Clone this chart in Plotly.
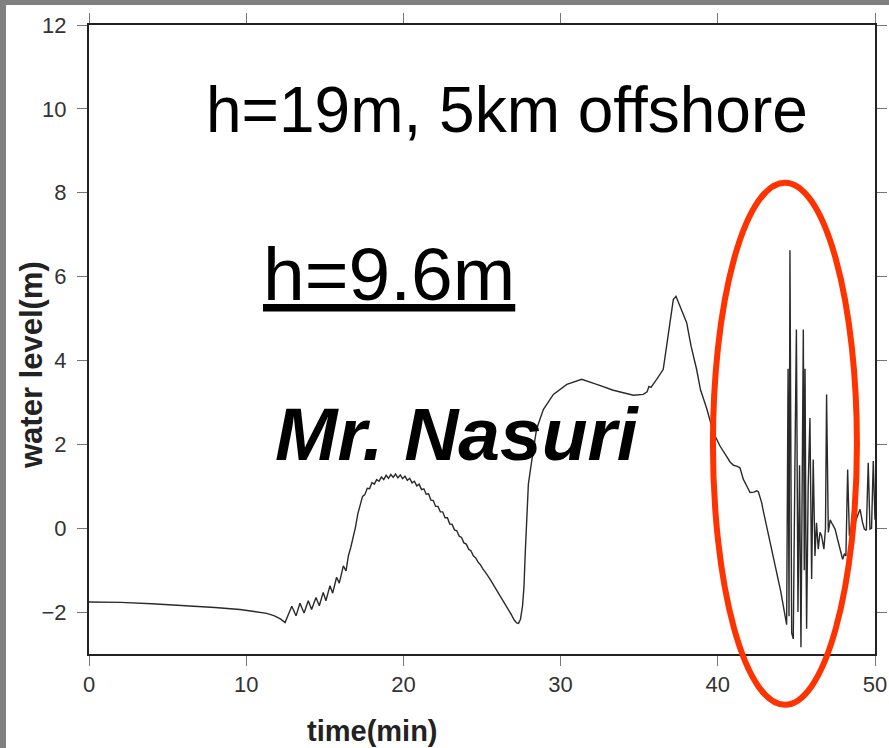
import plotly.graph_objects as go

# ---- data ----
t_pre = [0, 2, 4, 6, 8, 9.6, 10.5, 11.3, 11.8, 12.2, 12.47]
v_pre = [-1.76, -1.77, -1.80, -1.84, -1.89, -1.94, -1.98, -2.03, -2.09, -2.17, -2.25]

t_ripple = [12.9, 13.17, 13.42, 13.68, 13.95, 14.16, 14.44, 14.65, 14.9, 15.07,
            15.33, 15.5, 15.75, 15.92, 16.18, 16.35]
v_ripple = [-1.86, -2.09, -1.79, -2.02, -1.73, -1.94, -1.65, -1.85, -1.53, -1.73,
            -1.37, -1.55, -1.17, -1.31, -0.90, -1.02]

t_hump = [16.50, 16.65, 16.80, 16.95, 17.10, 17.25, 17.40, 17.55, 17.70, 17.85,
          18.00, 18.15, 18.30, 18.45, 18.60, 18.75, 18.90, 19.05, 19.20, 19.35,
          19.50, 19.65, 19.80, 19.95, 20.10, 20.25, 20.40, 20.55, 20.70, 20.85,
          21.00, 21.15, 21.30, 21.45, 21.60, 21.75, 21.90, 22.05, 22.20, 22.35,
          22.50, 22.65, 22.80, 22.95, 23.10, 23.25, 23.40, 23.55, 23.70, 23.85,
          24.00, 24.15, 24.30, 24.45, 24.60, 24.75, 24.90, 25.05, 25.20, 25.50,
          25.80, 26.00]
v_hump = [-0.66, -0.46, -0.22, 0.02, 0.34, 0.56, 0.76, 0.80, 0.95, 0.94,
          1.09, 1.05, 1.16, 1.12, 1.22, 1.16, 1.26, 1.19, 1.28, 1.21,
          1.29, 1.20, 1.27, 1.18, 1.24, 1.14, 1.19, 1.08, 1.12, 1.01,
          1.05, 0.92, 0.94, 0.81, 0.82, 0.67, 0.66, 0.52, 0.52, 0.39,
          0.39, 0.25, 0.25, 0.10, 0.09, -0.04, -0.06, -0.19, -0.22, -0.35,
          -0.38, -0.50, -0.54, -0.66, -0.71, -0.81, -0.87, -0.97, -1.04, -1.21,
          -1.39, -1.51]

t_bore = [26.30, 26.60, 26.85, 27.05, 27.20, 27.32, 27.45, 27.58, 27.67, 27.75,
          27.82, 27.95, 28.16, 28.47, 28.9, 29.54, 30.4, 31.34, 32.3, 33.35,
          34.63, 35.26, 35.5, 35.62, 35.75, 35.9, 36.11, 36.53, 36.75, 36.96,
          37.17, 37.34, 37.7, 38.02, 38.3, 38.65, 38.9, 39.3, 39.72, 39.93,
          40.14, 40.5, 40.78, 41.0, 41.2, 41.41, 41.62, 41.85, 42.05, 42.3,
          42.47, 42.58, 42.79, 42.9, 43.53, 44.0, 44.38]
v_bore = [-1.70, -1.88, -2.05, -2.19, -2.26, -2.27, -2.17, -1.85, -1.40, -0.60,
          0.15, 1.05, 1.60, 2.36, 2.83, 3.19, 3.43, 3.55, 3.43, 3.29,
          3.17, 3.19, 3.25, 3.38, 3.36, 3.45, 3.55, 3.79, 4.34, 4.98,
          5.45, 5.53, 5.21, 4.90, 4.34, 3.79, 3.30, 2.85, 2.28, 2.12,
          1.96, 1.75, 1.58, 1.50, 1.48, 1.44, 1.17, 1.00, 0.85, 0.86,
          0.89, 0.87, 0.61, 0.40, -0.66, -1.50, -2.30]

t_spike = [44.47, 44.53, 44.59, 44.70, 44.80, 44.92, 45.00, 45.10, 45.20, 45.29,
           45.44, 45.50, 45.55, 45.60, 45.65, 45.75, 45.86, 45.97, 46.07, 46.18,
           46.28, 46.39, 46.50, 46.60, 46.75, 46.85, 46.92, 47.03, 47.15, 47.24,
           47.35, 47.46, 47.67, 47.94, 48.05, 48.15, 48.26, 48.37, 48.55, 48.73,
           48.90, 49.05, 49.20, 49.32, 49.45, 49.57, 49.68, 49.78, 49.89, 49.95,
           50.0]
v_spike = [3.80, -2.10, 6.63, -2.50, -2.64, 2.00, 4.74, -2.00, 1.50, -2.84,
           4.74, -1.00, 3.80, 0.00, -2.40, 1.00, 2.63, -1.21, 1.64, -0.66,
           0.13, -0.50, -0.10, -0.18, -0.50, 0.00, 3.19, -0.10, 0.20, 0.13,
           0.05, -0.02, -0.34, -0.74, -0.62, -0.66, 1.40, -0.18, 0.00, 0.13,
           0.30, 0.45, 0.15, -0.02, -0.05, 1.56, -0.02, 0.00, 1.60, 0.30,
           0.20]

time_min = t_pre + t_ripple + t_hump + t_bore + t_spike
water_level = v_pre + v_ripple + v_hump + v_bore + v_spike

x_range = [0, 50]
y_range = [-3, 12]
x_ticks = [0, 10, 20, 30, 40, 50]
y_ticks = [-2, 0, 2, 4, 6, 8, 10, 12]

# highlighted region (ellipse) in data units
ell_t = [39.69, 48.85]
ell_v = [-4.21, 8.24]

FONT = "Liberation Sans, Arial, sans-serif"
W, H = 889, 748
ML, MR, MT, MB = 89, 14, 25, 94

fig = go.Figure()
fig.add_trace(go.Scatter(x=time_min, y=water_level, mode="lines",
                         line=dict(color="#2a2a2a", width=1.4),
                         showlegend=False, hoverinfo="skip"))


def px(t):
    return (t - x_range[0]) / (x_range[1] - x_range[0])


def py(v):
    return (v - y_range[0]) / (y_range[1] - y_range[0])


pw = W - ML - MR
ph = H - MT - MB

shapes = [
    # gray frame of the slide (left and top)
    dict(type="rect", xref="paper", yref="paper", layer="above",
         x0=-ML / pw, x1=-(ML - 6) / pw, y0=-MB / ph, y1=(ph + MT) / ph,
         line=dict(width=0), fillcolor="#808080"),
    dict(type="rect", xref="paper", yref="paper", layer="above",
         x0=-ML / pw, x1=(pw + MR) / pw, y0=(ph + MT - 5) / ph, y1=(ph + MT) / ph,
         line=dict(width=0), fillcolor="#808080"),
    # red ellipse
    dict(type="circle", xref="paper", yref="paper", layer="above",
         x0=px(ell_t[0]), x1=px(ell_t[1]), y0=py(ell_v[0]), y1=py(ell_v[1]),
         line=dict(color="#ff3300", width=6)),
]

annotations = [
    dict(x=26.62, y=9.98, xref="x", yref="y", text="h=19m, 5km offshore",
         showarrow=False, font=dict(family=FONT, size=64, color="black"),
         xanchor="center", yanchor="middle"),
    dict(x=19.08, y=6.07, xref="x", yref="y", text="<u>h=9.6m</u>",
         showarrow=False, font=dict(family=FONT, size=75, color="black"),
         xanchor="center", yanchor="middle"),
    dict(x=23.44, y=2.25, xref="x", yref="y", text="<b><i>Mr. Nasuri</i></b>",
         showarrow=False, font=dict(family=FONT, size=75, color="black"),
         xanchor="center", yanchor="middle"),
    dict(x=(372 - ML) / pw, y=-(731 - MT - ph) / ph, xref="paper", yref="paper",
         text="<b>time(min)</b>", showarrow=False,
         font=dict(family=FONT, size=29, color="#222"),
         xanchor="center", yanchor="middle"),
    dict(x=-(ML - 31) / pw, y=(MT + ph - 365) / ph, xref="paper", yref="paper",
         text="<b>water level(m)</b>", showarrow=False, textangle=-90,
         font=dict(family=FONT, size=31, color="#222"),
         xanchor="center", yanchor="middle"),
]

axis_common = dict(showline=True, linecolor="#222", linewidth=2, mirror="allticks",
                   ticks="outside", ticklen=10, tickwidth=1, tickcolor="#777",
                   showgrid=False, zeroline=False,
                   tickfont=dict(family=FONT, size=22, color="#333"))

fig.update_layout(
    width=W, height=H, autosize=False,
    margin=dict(l=ML, r=MR, t=MT, b=MB, pad=0, autoexpand=False),
    paper_bgcolor="white", plot_bgcolor="white",
    xaxis=dict(range=x_range, tickvals=x_ticks, automargin=False, **axis_common),
    yaxis=dict(range=y_range, tickvals=y_ticks, ticklabelstandoff=6,
               automargin=False, **axis_common),
    shapes=shapes, annotations=annotations,
    showlegend=False,
)

fig.write_html("out.html", config={"responsive": False, "displayModeBar": False},
               post_script="document.documentElement.style.overflow='hidden';"
                           "document.body.style.margin='0';"
                           "document.body.style.overflow='hidden';")
